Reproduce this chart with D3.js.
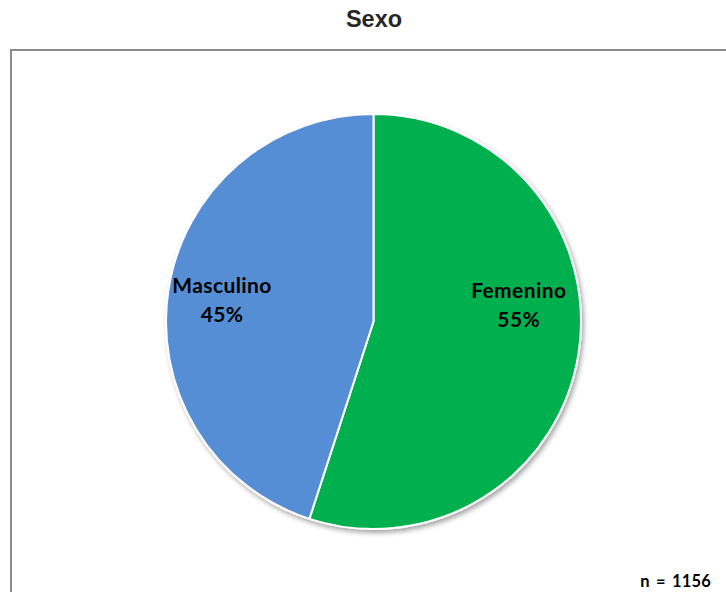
<!DOCTYPE html>
<html>
<head>
<meta charset="utf-8">
<script src="https://cdn.jsdelivr.net/npm/d3@7"></script>
<style>
  html, body { margin: 0; padding: 0; background: #fff; }
  svg { display: block; }
</style>
</head>
<body>
<svg id="chart" width="726" height="592"></svg>
<script>
// Data
const categories = ["Femenino", "Masculino"];
const percents = [55, 45];
const colors = ["#00B050", "#558ED5"];
const title = "Sexo";
const sampleNote = "n = 1156";

const W = 726, H = 592;
const svg = d3.select("#chart");

// Frame around plot area (right and bottom run past the viewport)
svg.append("rect")
  .attr("x", 11).attr("y", 50)
  .attr("width", 760).attr("height", 600)
  .attr("fill", "none")
  .attr("stroke", "#8c8c8c")
  .attr("stroke-width", 2);

// Title
svg.append("text")
  .attr("x", 374).attr("y", 27)
  .attr("text-anchor", "middle")
  .attr("font-family", "Liberation Sans, Arial, sans-serif")
  .attr("font-weight", "bold")
  .attr("font-size", 23.5)
  .attr("fill", "#262626")
  .text(title);

// Soft drop shadow for the pie
const defs = svg.append("defs");
const f = defs.append("filter").attr("id", "shadow")
  .attr("x", "-10%").attr("y", "-10%").attr("width", "120%").attr("height", "120%");
f.append("feGaussianBlur").attr("in", "SourceAlpha").attr("stdDeviation", 2.5).attr("result", "b");
f.append("feOffset").attr("in", "b").attr("dx", 1.5).attr("dy", 3).attr("result", "o");
f.append("feComponentTransfer").attr("in", "o").attr("result", "s")
  .append("feFuncA").attr("type", "linear").attr("slope", 0.35);
const m = f.append("feMerge");
m.append("feMergeNode").attr("in", "s");
m.append("feMergeNode").attr("in", "SourceGraphic");

const cx = 373.5, cy = 321.5, r = 207.5;
const data = categories.map((c, i) => ({ cat: c, value: percents[i], color: colors[i] }));

const pie = d3.pie().sort(null).value(d => d.value);
const arc = d3.arc().innerRadius(0).outerRadius(r);
const arcs = pie(data);

const g = svg.append("g").attr("transform", `translate(${cx},${cy})`);
g.append("g").attr("filter", "url(#shadow)")
  .selectAll("path")
  .data(arcs)
  .join("path")
  .attr("d", arc)
  .attr("fill", d => d.data.color)
  .attr("stroke", "#fff")
  .attr("stroke-width", 2)
  .attr("stroke-linejoin", "round");

// Data labels (best-fit placement, relative to pie radius)
const labelPos = { "Femenino": [0.70, -0.045], "Masculino": [-0.73, -0.07] };
const labelFont = "Lato, Carlito, Calibri, sans-serif";
const lbl = g.selectAll("g.lbl")
  .data(arcs)
  .join("g")
  .attr("class", "lbl")
  .attr("transform", d => {
    const p = labelPos[d.data.cat];
    return `translate(${p[0] * r},${p[1] * r})`;
  });
lbl.append("text")
  .attr("text-anchor", "middle")
  .attr("y", -14)
  .attr("font-family", labelFont)
  .attr("font-weight", "bold")
  .attr("font-size", 21)
  .attr("letter-spacing", 0.4)
  .attr("fill", "#000")
  .text(d => d.data.cat);
lbl.append("text")
  .attr("text-anchor", "middle")
  .attr("y", 15)
  .attr("font-family", labelFont)
  .attr("font-weight", "bold")
  .attr("font-size", 21)
  .attr("letter-spacing", 0.4)
  .attr("fill", "#000")
  .text(d => d.data.value + "%");

// Sample size note
svg.append("text")
  .attr("x", 711).attr("y", 587)
  .attr("text-anchor", "end")
  .attr("font-family", labelFont)
  .attr("font-weight", "bold")
  .attr("font-size", 16.5)
  .attr("letter-spacing", 0.2)
  .attr("word-spacing", 2)
  .attr("fill", "#000")
  .text(sampleNote);
</script>
</body>
</html>
